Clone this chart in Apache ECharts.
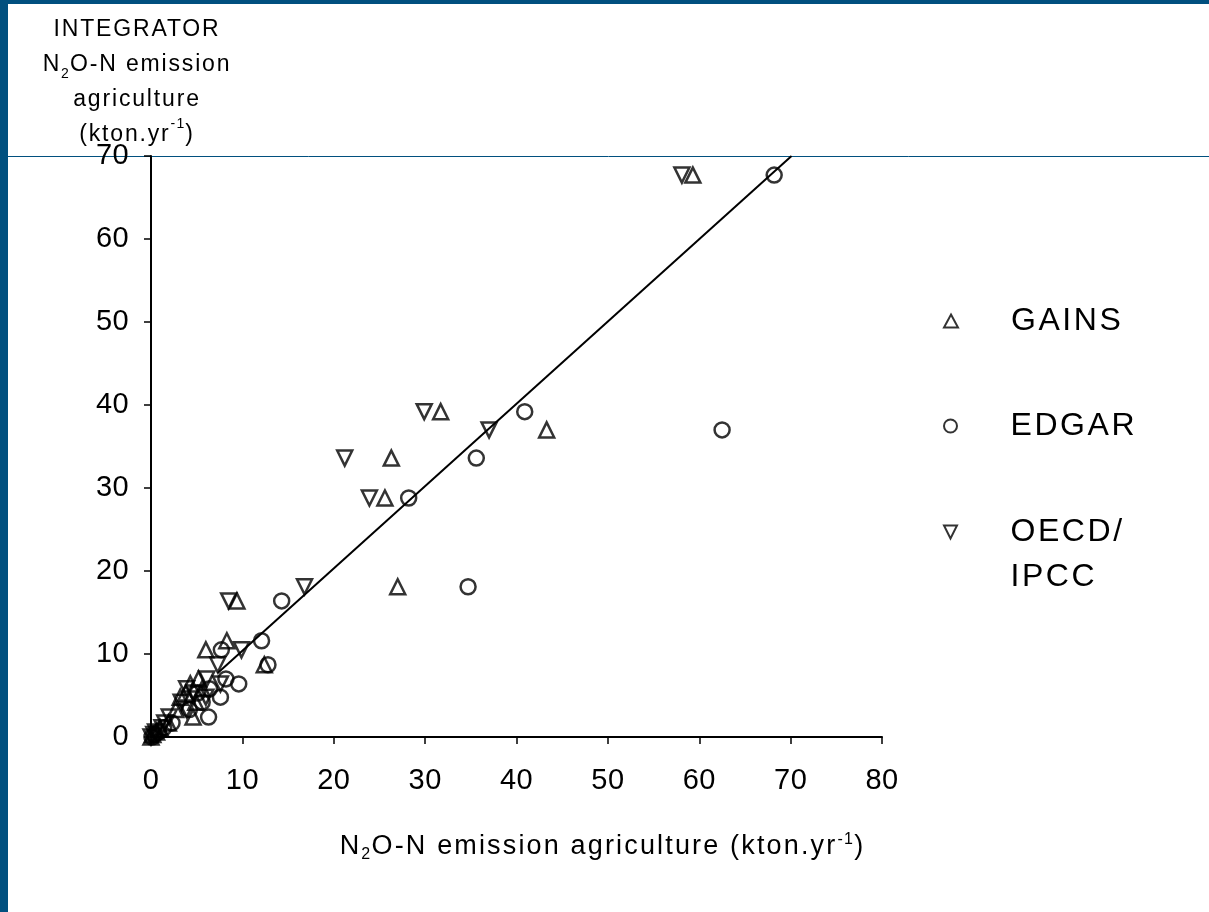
<!DOCTYPE html>
<html>
<head>
<meta charset="utf-8">
<script src="https://cdn.jsdelivr.net/npm/echarts@6/dist/echarts.min.js"></script>
<style>
html,body{margin:0;padding:0;background:#fff;}
#chart{width:1209px;height:912px;}
</style>
</head>
<body>
<div id="chart"></div>
<script>
// --- letter tracking similar to the reference typeface (canvas letterSpacing, if supported)
(function () {
  var P = window.CanvasRenderingContext2D && CanvasRenderingContext2D.prototype;
  if (!P || !('letterSpacing' in P)) return;
  var d = Object.getOwnPropertyDescriptor(P, 'font');
  if (!d || !d.set) return;
  Object.defineProperty(P, 'font', {
    configurable: true,
    enumerable: d.enumerable,
    get: function () { return d.get.call(this); },
    set: function (v) {
      d.set.call(this, v);
      var m = /([\d.]+)px/.exec(v);
      var px = m ? parseFloat(m[1]) : 0;
      var k = px === 29 ? 0.015 : 0.08;   // tick labels are set tighter
      this.letterSpacing = (px * k).toFixed(2) + 'px';
    }
  });
})();

// ---------------- DATA ----------------
// INTEGRATOR N2O-N emission (y), one value per region
const integrator = [67.7, 39.2, 37.0, 33.6, 28.8, 18.1, 16.4, 11.6, 10.5, 8.7, 7.0, 6.4, 5.8, 5.3, 4.8, 4.2, 3.3, 2.4, 1.7, 1.1, 0.6, 0.3, 0.0];
// Other inventories (x); '-' = not visible in the figure
const gains      = [59.3, 31.7, 43.3, 26.3, 25.6, 27.0, 9.4, 8.3, 6.0, 12.4, 5.2, 4.3, 5.6, 3.8, 3.2, 4.9, 2.7, 4.6, 1.9, 1.0, 0.6, 0.2, 0.0];
const edgar      = [68.2, 40.9, 62.5, 35.6, 28.2, 34.7, 14.3, 12.1, 7.7, 12.8, 8.2, 9.6, 6.4, 5.1, 7.6, 5.6, 4.2, 6.3, 2.3, 1.4, 0.8, 0.4, 0.1];
const oecd       = [58.1, 29.9, 37.0, 21.2, 23.9, 16.8, 8.5, '-', 9.9, 7.3, 6.1, 7.6, 3.9, 4.7, 6.0, 3.3, 3.9, 2.0, 1.5, 1.2, 0.5, 0.3, 0.0];
// Regression line end points
const trendX = [7.3, 70.1];
const trendY = [7.7, 70.0];
const seriesNames = ['GAINS', 'EDGAR', 'OECD/IPCC'];
const xTicks = [0, 80, 10];   // min, max, interval
const yTicks = [0, 70, 10];

// ---------------- CHART ----------------
const FONT = '"Liberation Sans", Arial, Helvetica, sans-serif';
const BLUE = '#01507f';
const pairs = xs => xs.map((x, i) => [x, integrator[i]]);
const markerStyle = { color: 'rgba(0,0,0,0)', borderColor: '#000', borderWidth: 2.5 };
const DOWN = 'path://M0,0L20,0L10,20Z';

const chart = echarts.init(document.getElementById('chart'), null, { renderer: 'canvas' });

const legendBase = {
  orient: 'vertical', left: 943, padding: 0,
  itemWidth: 14, itemHeight: 13,
  itemStyle: { color: 'rgba(0,0,0,0)', borderColor: '#000', borderWidth: 2 },
  textStyle: { fontFamily: FONT, fontSize: 32, color: '#000', lineHeight: 45, padding: [0, 0, 0, 48] },
  selectedMode: false
};

chart.setOption({
  animation: false,
  backgroundColor: '#fff',
  textStyle: { fontFamily: FONT },
  grid: { left: 151, top: 156, right: 327, bottom: 175, containLabel: false },
  xAxis: {
    type: 'value', min: xTicks[0], max: xTicks[1], interval: xTicks[2],
    axisLine: { show: true, lineStyle: { color: '#000', width: 2 } },
    axisTick: { show: true, inside: false, length: 7, lineStyle: { color: '#000', width: 1.5 } },
    splitLine: { show: false },
    axisLabel: { fontSize: 29, color: '#000', margin: 29, fontFamily: FONT },
    name: '{n|N}{s|2}{n|O-N emission agriculture (kton.yr}{p|-1}{n|)}',
    nameLocation: 'middle', nameGap: 94, nameMoveOverlap: false,
    nameTextStyle: {
      fontFamily: FONT, fontSize: 27, color: '#000', padding: [0, 0, 0, 172],
      rich: {
        n: { fontFamily: FONT, fontSize: 27, lineHeight: 32, color: '#000' },
        s: { fontFamily: FONT, fontSize: 16, lineHeight: 10, verticalAlign: 'bottom', color: '#000' },
        p: { fontFamily: FONT, fontSize: 16, lineHeight: 26, verticalAlign: 'top', color: '#000' }
      }
    }
  },
  yAxis: {
    type: 'value', min: yTicks[0], max: yTicks[1], interval: yTicks[2],
    axisLine: { show: true, lineStyle: { color: '#000', width: 2 } },
    axisTick: { show: true, inside: false, length: 7, lineStyle: { color: '#000', width: 1.5 } },
    splitLine: { show: false },
    axisLabel: { fontSize: 29, color: '#000', margin: 22, fontFamily: FONT },
    name: '{n|INTEGRATOR}\n{n|N}{s|2}{n|O-N emission}\n{n|agriculture}\n{n|(kton.yr}{p|-1}{n|)}',
    nameLocation: 'end', nameGap: 4, nameMoveOverlap: false,
    nameTextStyle: {
      fontFamily: FONT, fontSize: 23, color: '#000', align: 'center', verticalAlign: 'bottom',
      padding: [0, 28, 0, 0],
      rich: {
        n: { fontFamily: FONT, fontSize: 23, lineHeight: 35, color: '#000' },
        s: { fontFamily: FONT, fontSize: 14, lineHeight: 12, verticalAlign: 'bottom', color: '#000' },
        p: { fontFamily: FONT, fontSize: 14, lineHeight: 30, verticalAlign: 'top', color: '#000' }
      }
    }
  },
  legend: [
    Object.assign({}, legendBase, { top: 321 - 22.5, data: [seriesNames[0]] }),
    Object.assign({}, legendBase, { top: 426 - 22.5, data: [seriesNames[1]] }),
    Object.assign({}, legendBase, {
      top: 532 - 67.5, data: [seriesNames[2]],
      formatter: n => '\n' + n.replace('/', '/\n')
    })
  ],
  graphic: [
    { type: 'rect', left: 0, top: 0, z: 100, shape: { width: 8, height: 912 }, style: { fill: BLUE }, silent: true },
    { type: 'rect', left: 0, top: 0, z: 100, shape: { width: 1209, height: 4 }, style: { fill: BLUE }, silent: true },
    { type: 'line', z: -1, shape: { x1: 8, y1: 156.5, x2: 1209, y2: 156.5 }, style: { stroke: BLUE, lineWidth: 1 }, silent: true }
  ],
  series: [
    {
      name: 'trend', type: 'line', data: trendX.map((x, i) => [x, trendY[i]]),
      showSymbol: false, symbol: 'none', lineStyle: { color: '#000', width: 2 }, z: 1, silent: true
    },
    {
      name: seriesNames[0], type: 'scatter', data: pairs(gains),
      symbol: 'triangle', symbolSize: 15, itemStyle: markerStyle, z: 2
    },
    {
      name: seriesNames[1], type: 'scatter', data: pairs(edgar),
      symbol: 'circle', symbolSize: 15, itemStyle: markerStyle, z: 2
    },
    {
      name: seriesNames[2], type: 'scatter', data: pairs(oecd),
      symbol: DOWN, symbolSize: 15, itemStyle: markerStyle, z: 2
    }
  ]
});
</script>
</body>
</html>
